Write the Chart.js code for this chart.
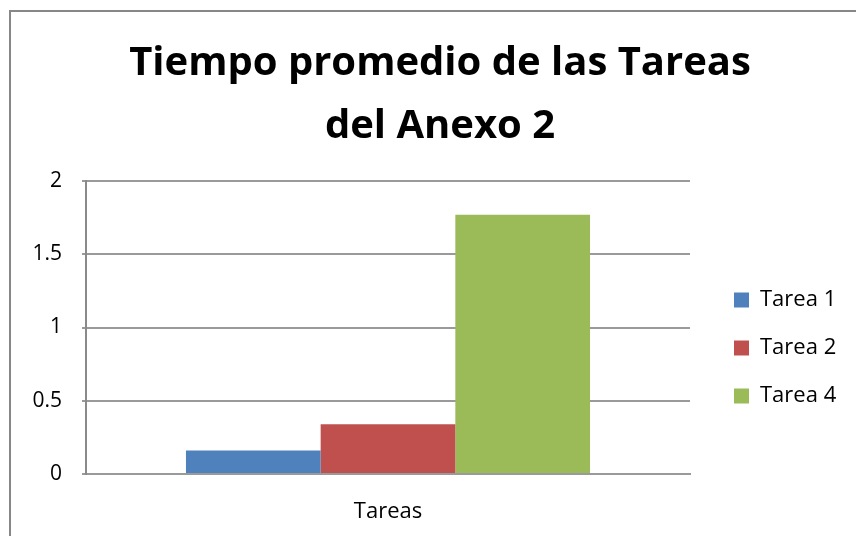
<!DOCTYPE html>
<html lang="es">
<head>
<meta charset="utf-8">
<title>Tiempo promedio de las Tareas del Anexo 2</title>
<script src="https://cdn.jsdelivr.net/npm/chart.js@4.4.1/dist/chart.umd.min.js"></script>
<style>
  html, body { margin: 0; padding: 0; background: #fff; overflow: hidden; }
  #contenedor { position: relative; width: 856px; height: 536px; }
  #marco {
    position: absolute; left: 9px; top: 10px; width: 900px; height: 600px;
    border-left: 2px solid #878787; border-top: 2px solid #878787;
    pointer-events: none;
  }
</style>
</head>
<body>
<div id="contenedor">
  <canvas id="grafico" width="856" height="536"></canvas>
  <div id="marco"></div>
</div>
<script>
// Datos
const categorias = ['Tareas'];
const series = ['Tarea 1', 'Tarea 2', 'Tarea 4'];
const tiempos = [0.16, 0.34, 1.77];
const colores = ['#4F81BD', '#C0504D', '#9BBB59'];
const marcasY = [0, 0.5, 1, 1.5, 2];

const fuente = "'Open Sans', 'DejaVu Sans', sans-serif";
const gris = '#9a9a9a';

// ancho fijo de la leyenda y desplazamiento de sus elementos
const ajusteLeyenda = {
  id: 'ajusteLeyenda',
  afterInit(chart) {
    const leyenda = chart.legend;
    const fitOriginal = leyenda.fit;
    leyenda.fit = function () {
      fitOriginal.call(this);
      this.width = 166;
    };
  },
  afterLayout(chart) {
    const l = chart.legend;
    l.left += 18; l.right += 18;
    l.top += 80; l.bottom += 80;
  }
};

const datasets = series.map((nombre, i) => ({
  label: nombre,
  data: [tiempos[i]],
  backgroundColor: colores[i],
  borderWidth: 0
}));

new Chart(document.getElementById('grafico'), {
  type: 'bar',
  data: { labels: categorias, datasets },
  plugins: [ajusteLeyenda],
  options: {
    responsive: false,
    animation: false,
    categoryPercentage: 0.669,
    barPercentage: 1,
    layout: { padding: { left: 24, right: 0, top: 0, bottom: 0 } },
    plugins: {
      tooltip: { enabled: false },
      title: {
        display: true,
        text: ['Tiempo promedio de las Tareas', 'del Anexo 2'],
        color: '#000',
        font: { family: fuente, size: 40, weight: 'bold', lineHeight: '63px' },
        padding: { top: 32, bottom: 23 }
      },
      legend: {
        position: 'right',
        labels: {
          color: '#000',
          font: { family: fuente, size: 22 },
          boxWidth: 15,
          boxHeight: 15,
          padding: 26
        }
      }
    },
    scales: {
      x: {
        afterFit(scale) { scale.height = 62; },
        grid: { display: false, drawTicks: false },
        border: { display: true, color: gris, width: 2 },
        ticks: { color: '#000', font: { family: fuente, size: 22 }, padding: 25 }
      },
      y: {
        min: marcasY[0],
        max: marcasY[marcasY.length - 1],
        afterFit(scale) { scale.width = 62; },
        afterBuildTicks(scale) { scale.ticks = marcasY.map(v => ({ value: v })); },
        grid: { color: gris, lineWidth: 2, tickLength: 4 },
        border: { display: true, color: '#8a8a8a', width: 2 },
        ticks: {
          color: '#000',
          font: { family: fuente, size: 21 },
          padding: 20,
          callback: v => String(v)
        }
      }
    }
  }
});
</script>
</body>
</html>
